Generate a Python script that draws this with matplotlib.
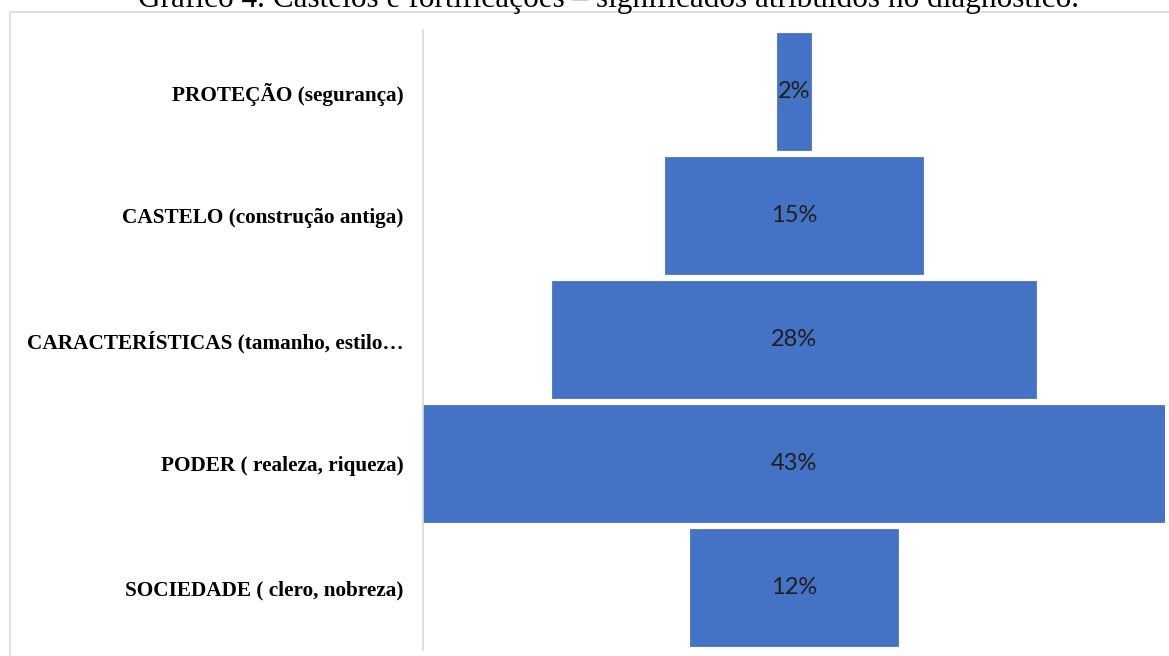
import numpy as np
import matplotlib.pyplot as plt
from matplotlib.patches import Rectangle

categorias = ['PROTEÇÃO (segurança)', 'CASTELO (construção antiga)',
              'CARACTERÍSTICAS (tamanho, estilo…', 'PODER ( realeza, riqueza)',
              'SOCIEDADE ( clero, nobreza)']
valores = [2, 15, 28, 43, 12]
rotulos = ['2%', '15%', '28%', '43%', '12%']

W, H = 1169, 656
fig = plt.figure(figsize=(W / 100, H / 100), dpi=100)

# moldura do gráfico (estilo Excel)
fig.patches.append(Rectangle((10 / W, -0.05), 1.2, 1 - 12 / H + 0.05,
                             transform=fig.transFigure, fill=False,
                             edgecolor='#d9d9d9', linewidth=1.2))

fig.text(609 / W, 1 - 7 / H, 'Gráfico 4. Castelos e fortificações – significados atribuídos no diagnóstico.',
         ha='center', va='baseline', fontsize=22.5, family='Liberation Serif')

ax = fig.add_axes([423 / W, 1 - 649.5 / H, (1165 - 423) / W, 620 / H])
y = np.arange(len(valores))
v = np.array(valores, dtype=float)
ax.barh(y, v, left=-v / 2, height=0.94, color='#4472c4', edgecolor='#4a76c6', linewidth=0.6)
ax.set_xlim(-max(valores) / 2, max(valores) / 2)
ax.set_ylim(len(valores) - 0.5, -0.5)

for yi, r in zip(y, rotulos):
    ax.text(0, yi, r, ha='center', va='center', fontsize=17, family='Lato', color='#1f1f1f')

ax.set_yticks(y)
ax.set_yticklabels(categorias, family='Liberation Serif', fontweight='bold', fontsize=15.3)
ax.tick_params(axis='y', length=0, pad=14)
ax.set_xticks([])
for s in ['top', 'right', 'bottom']:
    ax.spines[s].set_visible(False)
ax.spines['left'].set_color('#d9d9d9')
ax.spines['left'].set_linewidth(1.2)

fig.savefig('out.png', dpi=100)
